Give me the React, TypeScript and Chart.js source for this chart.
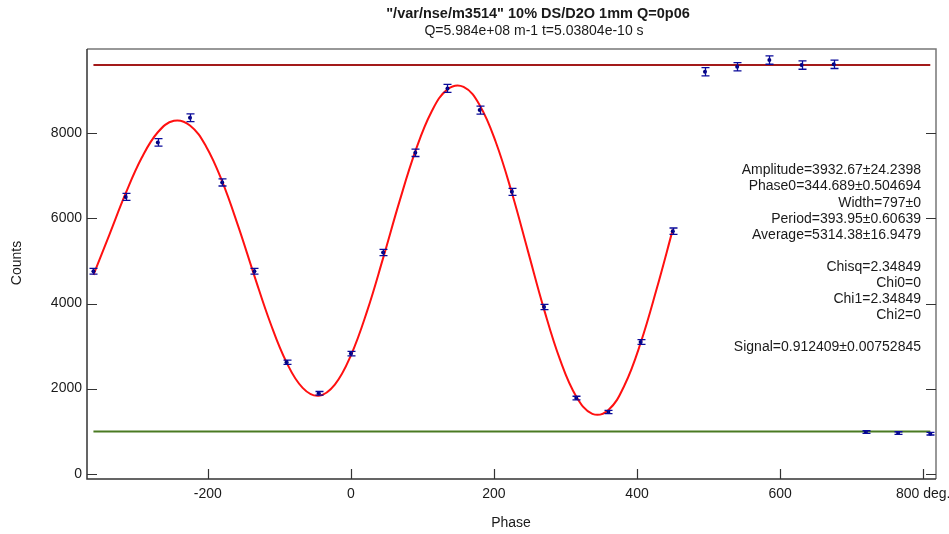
import React, { useEffect, useRef } from "react";
import Chart from "chart.js/auto";

const TITLE = '"/var/nse/m3514" 10% DS/D2O 1mm Q=0p06';
const SUBTITLE = "Q=5.984e+08 m-1 t=5.03804e-10 s";
const X_LABEL = "Phase";
const Y_LABEL = "Counts";

// measured points
const phase = [-360, -315, -270, -225, -180, -135, -90, -45, 0, 45, 90, 135, 180, 225, 270, 315, 360, 405, 450, 495, 540, 585, 630, 675, 720, 765, 810];
const counts = [4760, 6508, 7788, 8367, 6847, 4760, 2619, 1889, 2823, 5200, 7544, 9059, 8548, 6626, 3920, 1779, 1450, 3097, 5701, 9450, 9567, 9725, 9607, 9624, 979, 955, 941];
const countErrors = [69, 81, 88, 91, 83, 69, 51, 43, 53, 72, 87, 95, 92, 81, 63, 42, 38, 56, 76, 97, 98, 99, 98, 98, 31, 31, 31];

// fitted curve read along its path
const fitPhase = [-360, -337.5, -315, -292.5, -270, -247.5, -225, -202.5, -180, -157.5, -135, -112.5, -90, -67.5, -45, -22.5, 0, 22.5, 45, 67.5, 90, 112.5, 135, 157.5, 180, 202.5, 225, 247.5, 270, 292.5, 315, 337.5, 360, 382.5, 405, 427.5, 450];
const fitCounts = [4672, 5628, 6589, 7428, 8028, 8298, 8188, 7695, 6872, 5814, 4652, 3537, 2616, 2018, 1833, 2095, 2783, 3816, 5068, 6378, 7576, 8505, 9035, 9094, 8665, 7799, 6604, 5233, 3863, 2674, 1817, 1408, 1499, 2079, 3072, 4346, 5738];

// flipper up / down levels
const levelPhase = [-360, 810];
const upCounts = [9607, 9607];
const downCounts = [992, 992];

const xTicks = [-200, 0, 200, 400, 600, 800];
const xTickLabels = ["-200", "0", "200", "400", "600", "800 deg."];
const yTicks = [0, 2000, 4000, 6000, 8000];
const yTickLabels = ["0", "2000", "4000", "6000", "8000"];

const fitText = [
  "Amplitude=3932.67\u00b124.2398",
  "Phase0=344.689\u00b10.504694",
  "Width=797\u00b10",
  "Period=393.95\u00b10.60639",
  "Average=5314.38\u00b116.9479",
  "",
  "Chisq=2.34849",
  "Chi0=0",
  "Chi1=2.34849",
  "Chi2=0",
  "",
  "Signal=0.912409\u00b10.00752845",
];

const FONT = "Arial, 'Liberation Sans', Helvetica, sans-serif";

const decorPlugin = {
  id: "decor",
  afterDatasetsDraw(chart: any) {
    const ctx = chart.ctx;
    const xs = chart.scales.x;
    const ys = chart.scales.y;
    ctx.save();
    ctx.strokeStyle = "#0a0a9a";
    ctx.lineWidth = 1.3;
    for (let i = 0; i < phase.length; i++) {
      const px = Math.round(xs.getPixelForValue(phase[i])) + 0.5;
      const y1 = ys.getPixelForValue(counts[i] + countErrors[i]);
      const y2 = ys.getPixelForValue(counts[i] - countErrors[i]);
      ctx.beginPath();
      ctx.moveTo(px, y1);
      ctx.lineTo(px, y2);
      ctx.moveTo(px - 4, y1);
      ctx.lineTo(px + 4, y1);
      ctx.moveTo(px - 4, y2);
      ctx.lineTo(px + 4, y2);
      ctx.stroke();
    }
    ctx.restore();
  },
  afterDraw(chart: any) {
    const ctx = chart.ctx;
    const a = chart.chartArea;
    const xs = chart.scales.x;
    const ys = chart.scales.y;
    ctx.save();
    // frame
    ctx.lineWidth = 1.5;
    ctx.strokeStyle = "#777";
    ctx.beginPath();
    ctx.moveTo(a.left, a.top);
    ctx.lineTo(a.right, a.top);
    ctx.lineTo(a.right, a.bottom);
    ctx.stroke();
    ctx.strokeStyle = "#333";
    ctx.beginPath();
    ctx.moveTo(a.left, a.top);
    ctx.lineTo(a.left, a.bottom);
    ctx.lineTo(a.right, a.bottom);
    ctx.stroke();
    // ticks
    ctx.lineWidth = 1.2;
    ctx.strokeStyle = "#333";
    ctx.beginPath();
    for (const v of yTicks) {
      const py = Math.round(ys.getPixelForValue(v)) + 0.5;
      ctx.moveTo(a.left, py);
      ctx.lineTo(a.left + 10, py);
      ctx.moveTo(a.right, py);
      ctx.lineTo(a.right - 10, py);
    }
    for (const v of xTicks) {
      const px = Math.round(xs.getPixelForValue(v)) + 0.5;
      ctx.moveTo(px, a.bottom);
      ctx.lineTo(px, a.bottom - 10);
    }
    ctx.stroke();
    // tick labels
    ctx.fillStyle = "#1a1a1a";
    ctx.font = `14px ${FONT}`;
    ctx.textBaseline = "middle";
    ctx.textAlign = "right";
    yTicks.forEach((v, i) => {
      ctx.fillText(yTickLabels[i], a.left - 5, ys.getPixelForValue(v));
    });
    ctx.textAlign = "center";
    xTicks.forEach((v, i) => {
      ctx.fillText(xTickLabels[i], xs.getPixelForValue(v), a.bottom + 15);
    });
    // axis titles
    ctx.fillText(X_LABEL, 511, 523);
    ctx.save();
    ctx.translate(17, 263);
    ctx.rotate(-Math.PI / 2);
    ctx.fillText(Y_LABEL, 0, 0);
    ctx.restore();
    // titles
    ctx.font = `bold 14.5px ${FONT}`;
    ctx.fillText(TITLE, 538, 14);
    ctx.font = `14px ${FONT}`;
    ctx.fillText(SUBTITLE, 534, 31);
    // fit results
    ctx.textAlign = "right";
    fitText.forEach((t, i) => {
      if (t) ctx.fillText(t, 921, 170.5 + i * 16.1);
    });
    ctx.restore();
  },
};

export default function App() {
  const ref = useRef<HTMLCanvasElement | null>(null);
  useEffect(() => {
    document.body.style.margin = "0";
    const canvas = ref.current!;
    const chart = new Chart(canvas, {
      type: "scatter",
      data: {
        datasets: [
          {
            type: "scatter",
            data: phase.map((x, i) => ({ x, y: counts[i] })),
            pointRadius: 2,
            pointBackgroundColor: "#00007a",
            pointBorderColor: "#00007a",
            borderWidth: 0,
            order: 0,
          },
          {
            type: "line",
            data: fitPhase.map((x, i) => ({ x, y: fitCounts[i] })),
            borderColor: "#ff1010",
            borderWidth: 2,
            pointRadius: 0,
            tension: 0.4,
            fill: false,
            order: 1,
          },
          {
            type: "line",
            data: levelPhase.map((x, i) => ({ x, y: upCounts[i] })),
            borderColor: "#a31a1a",
            borderWidth: 2,
            pointRadius: 0,
            fill: false,
            order: 2,
          },
          {
            type: "line",
            data: levelPhase.map((x, i) => ({ x, y: downCounts[i] })),
            borderColor: "#4a7a22",
            borderWidth: 2,
            pointRadius: 0,
            fill: false,
            order: 2,
          },
        ],
      } as any,
      options: {
        animation: false,
        responsive: false,
        devicePixelRatio: 1,
        layout: { padding: { left: 87, right: 13, top: 49, bottom: 55 } },
        plugins: { legend: { display: false }, tooltip: { enabled: false }, title: { display: false } },
        scales: {
          x: { type: "linear", min: -369, max: 818, display: false },
          y: { type: "linear", min: -125, max: 9985, display: false },
        },
      } as any,
      plugins: [decorPlugin],
    });
    return () => chart.destroy();
  }, []);
  return (
    <div style={{ position: "absolute", left: 0, top: 0, width: 949, height: 534, background: "#fff" }}>
      <canvas ref={ref} width={949} height={534} style={{ display: "block" }} />
    </div>
  );
}
